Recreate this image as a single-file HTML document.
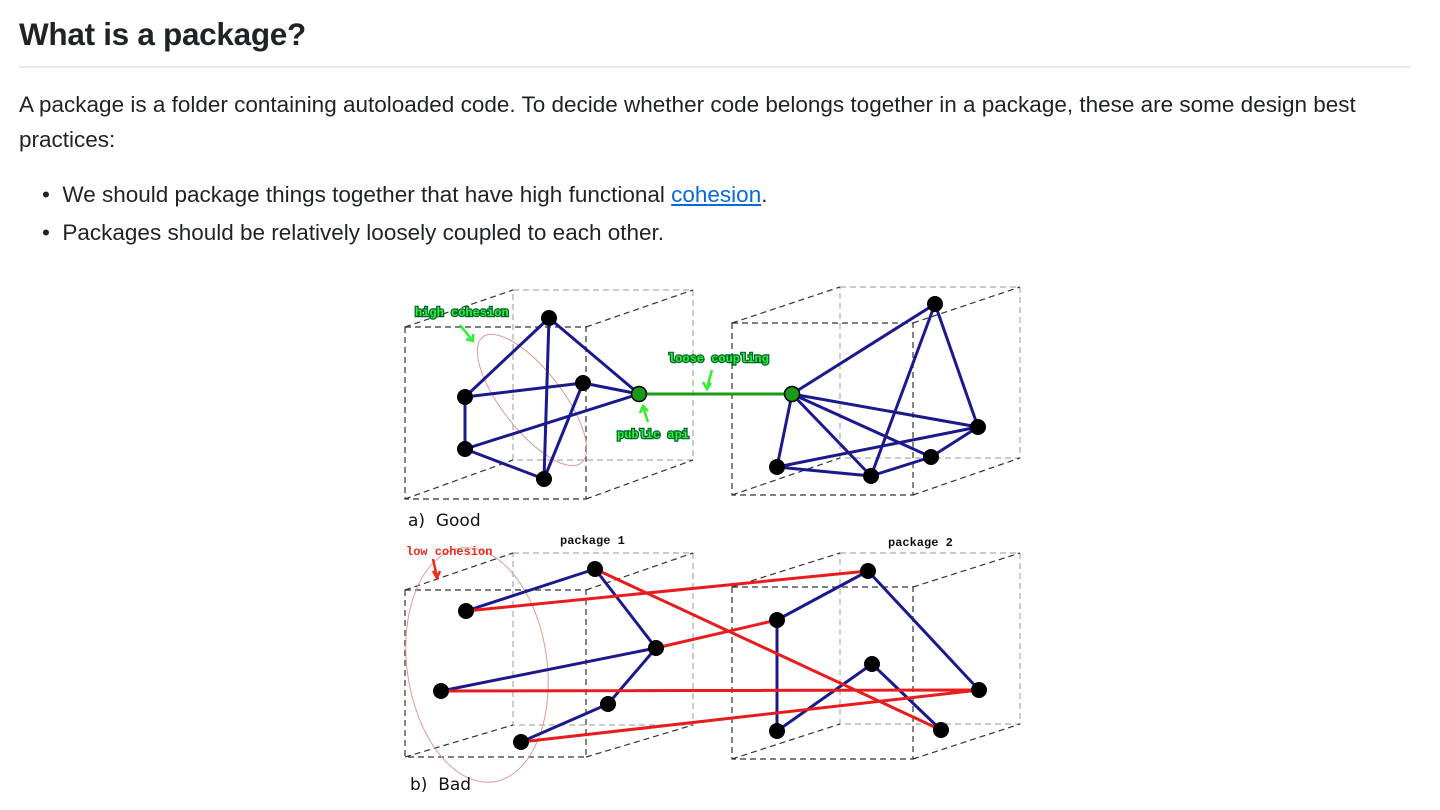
<!DOCTYPE html>
<html><head><meta charset="utf-8"><style>
body{margin:0;width:1440px;height:810px;background:#fff;font-family:"Liberation Sans",sans-serif;color:#1f2328;position:relative;overflow:hidden}
.t{position:absolute;white-space:nowrap}
h1{position:absolute;left:19px;top:16px;margin:0;font-size:31.5px;font-weight:bold;letter-spacing:-0.3px}
.hr{position:absolute;left:19px;top:66px;width:1391px;height:2px;background:#e5e9ee}
.txt{font-size:22.5px}
a{color:#0969da;text-decoration:underline}
</style></head><body>
<h1>What is a package?</h1>
<div class="hr"></div>
<div class="t txt" style="left:19px;top:92px">A package is a folder containing autoloaded code. To decide whether code belongs together in a package, these are some design best</div>
<div class="t txt" style="left:19px;top:127px">practices:</div>
<div class="t txt" style="left:42px;top:182px">•&nbsp;&nbsp;We should package things together that have high functional <a>cohesion</a>.</div>
<div class="t txt" style="left:42px;top:220px">•&nbsp;&nbsp;Packages should be relatively loosely coupled to each other.</div>
<svg width="1440" height="810" style="position:absolute;left:0;top:0" xmlns="http://www.w3.org/2000/svg">
<g fill="none" stroke-width="1.2" stroke-dasharray="6,4">
<g stroke="#aaa">
<rect x="513" y="290" width="180" height="170"/><rect x="840" y="287" width="180" height="171"/>
<rect x="513" y="553" width="180" height="172"/><rect x="840" y="553" width="180" height="171"/>
</g>
<g stroke="#333">
<rect x="405" y="327" width="181" height="172"/><rect x="732" y="323" width="181" height="172"/>
<rect x="405" y="590" width="181" height="167"/><rect x="732" y="587" width="181" height="172"/>
<path d="M405 327L513 290M586 327L693 290M405 499L513 460M586 499L693 460"/>
<path d="M732 323L840 287M913 323L1020 287M732 495L840 458M913 495L1020 458"/>
<path d="M405 590L513 553M586 590L693 553M405 757L513 725M586 757L693 725"/>
<path d="M732 587L840 553M913 587L1020 553M732 759L840 724M913 759L1020 724"/>
</g></g>
<ellipse cx="532" cy="400" rx="30" ry="80" transform="rotate(-38 532 400)" fill="none" stroke="#d99" stroke-width="1"/>
<ellipse cx="477" cy="665" rx="70" ry="118" transform="rotate(-8 477 665)" fill="none" stroke="#d99" stroke-width="1"/>
<g stroke="#1a1a8c" stroke-width="3">
<path d="M549 318L465 397M549 318L544 479M549 318L639 394M465 397L583 383M465 397L465 449M465 449L544 479M465 449L639 394M583 383L544 479M583 383L639 394"/>
<path d="M792 394L935 304M792 394L777 467M792 394L871 476M792 394L978 427M792 394L931 457M935 304L871 476M935 304L978 427M777 467L871 476M777 467L978 427M871 476L931 457M931 457L978 427"/>
<path d="M466 611L595 569M595 569L656 648M656 648L441 691M656 648L608 704M608 704L521 742"/>
<path d="M777 620L868 571M868 571L979 690M777 620L777 731M777 731L872 664M872 664L941 730"/>
</g>
<g stroke="#e81c1c" stroke-width="3">
<path d="M466 611L868 571M595 569L941 730M656 648L777 620M441 691L979 690M521 742L979 690"/>
</g>
<line x1="639" y1="394" x2="792" y2="394" stroke="#1a9a1a" stroke-width="3"/>
<g fill="#000">
<circle cx="549" cy="318" r="8"/><circle cx="465" cy="397" r="8"/><circle cx="583" cy="383" r="8"/><circle cx="465" cy="449" r="8"/><circle cx="544" cy="479" r="8"/>
<circle cx="935" cy="304" r="8"/><circle cx="978" cy="427" r="8"/><circle cx="931" cy="457" r="8"/><circle cx="871" cy="476" r="8"/><circle cx="777" cy="467" r="8"/>
<circle cx="466" cy="611" r="8"/><circle cx="595" cy="569" r="8"/><circle cx="656" cy="648" r="8"/><circle cx="441" cy="691" r="8"/><circle cx="608" cy="704" r="8"/><circle cx="521" cy="742" r="8"/>
<circle cx="777" cy="620" r="8"/><circle cx="868" cy="571" r="8"/><circle cx="872" cy="664" r="8"/><circle cx="979" cy="690" r="8"/><circle cx="777" cy="731" r="8"/><circle cx="941" cy="730" r="8"/>
</g>
<g fill="#1a9a1a" stroke="#000" stroke-width="1.5"><circle cx="639" cy="394" r="7.5"/><circle cx="792" cy="394" r="7.5"/></g>
<g font-family="Liberation Mono,monospace" font-weight="bold" font-size="12">
<g fill="#33ee33" stroke="#063" stroke-width="2.5" paint-order="stroke">
<text x="415" y="316">high cohesion</text>
<text x="668" y="362">loose coupling</text>
<text x="617" y="438">public api</text>
</g>
<text x="406" y="555" fill="#f02a1a">low cohesion</text>
<text x="560" y="544" fill="#111">package 1</text>
<text x="888" y="546" fill="#111">package 2</text>
</g>
<g stroke-width="2.5" fill="none">
<path d="M460 325L472 340M466 339L473 341L473 334" stroke="#33ee33"/>
<path d="M712 370L707 388M703 382L707 389L711 383" stroke="#33ee33"/>
<path d="M648 422L643 407M640 413L643 406L648 411" stroke="#33ee33"/>
<path d="M433 559L437 577M433 571L437 578L440 571" stroke="#f02a1a"/>
</g>
<g font-family="DejaVu Sans,sans-serif" font-size="17" fill="#111">
<text x="408" y="526">a)&#160;&#160;Good</text>
<text x="410" y="790">b)&#160;&#160;Bad</text>
</g>
</svg>
</body></html>
